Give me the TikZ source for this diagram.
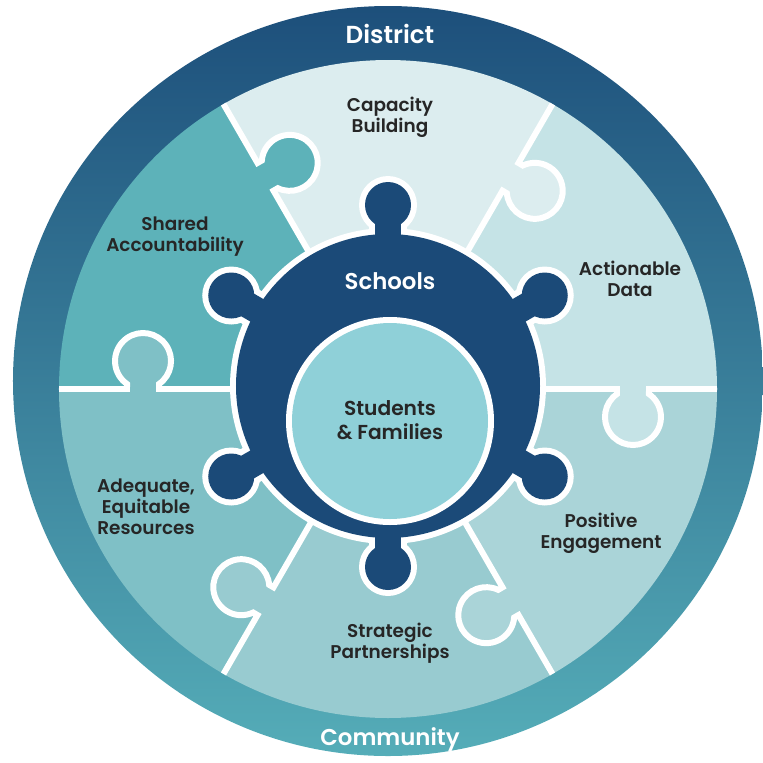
\documentclass[tikz,border=0pt]{standalone}
\usepackage{fontspec}
\setmainfont{Poppins}[BoldFont={Poppins SemiBold}]
\definecolor{ringtop}{HTML}{1D4F7B}
\definecolor{ringbot}{HTML}{55ADB8}
\definecolor{gearblue}{HTML}{1B4A78}
\definecolor{coreteal}{HTML}{8FD0D8}
\definecolor{pccap}{HTML}{DCEDEF}
\definecolor{pcact}{HTML}{C5E3E6}
\definecolor{pcpos}{HTML}{AAD4D8}
\definecolor{pcstr}{HTML}{98CBD0}
\definecolor{pcadq}{HTML}{7FC0C6}
\definecolor{pcshr}{HTML}{5DB2B9}
\definecolor{labeltext}{HTML}{262626}

\begin{document}
\begin{tikzpicture}[x=0.02cm, y=0.02cm,
		divider/.style={draw=white, line width=3.4pt},
		piecelabel/.style={align=center, text=labeltext, font=\fontsize{10.5}{12}\selectfont\bfseries},
		ringlabel/.style={align=center, text=white, font=\bfseries}]
		\useasboundingbox (-388,-373) rectangle (375,389);
		% outer ring
		\shade[top color=ringtop, bottom color=ringbot] (0,8) circle (375);

		% puzzle pieces
		\foreach \ang/\pc in {0/pcact,60/pccap,120/pcshr,180/pcadq,240/pcstr,300/pcpos}{
			\fill[\pc] (0,0) -- (\ang:329) arc[start angle=\ang, end angle=\ang+60, radius=329] -- cycle;
		}
		\begin{scope}
			\clip (0,0) circle (329);
			\foreach \ang/\pc in {0/pcact,60/pccap,120/pcshr,180/pcadq,240/pcstr,300/pcpos}{
				\begin{scope}[rotate=\ang]
					\fill[\pc] (229,1) -- (229,-5) arc[start angle=124.8, end angle=415.2, radius=28] -- (261,1) -- cycle;
					\draw[divider] (120,0) -- (229,0) -- (229,-5) arc[start angle=124.8, end angle=415.2, radius=28] -- (261,0) -- (340,0);
				\end{scope}
			}
		\end{scope}

		% schools gear
		\foreach \g in {30,90,150,210,270,330}{
			\draw[white, line width=6.8pt] ([shift={(0,3)}]\g:181) circle (23);
			\draw[white, line width=6.8pt, rotate around={\g:(0,3)}] (140,-10) rectangle (170,16);
		}
		\draw[white, line width=6.8pt] (0,3) circle (152);
		\fill[gearblue] (0,3) circle (152);
		\foreach \g in {30,90,150,210,270,330}{
			\fill[gearblue] ([shift={(0,3)}]\g:181) circle (23);
			\fill[gearblue, rotate around={\g:(0,3)}] (140,-10) rectangle (170,16);
		}

		% students and families
		\fill[white] (2,-32) circle (104);
		\fill[coreteal] (2,-32) circle (98);

		\node[ringlabel, font=\fontsize{14}{16}\selectfont\bfseries] (district) at (2,355) {District};
		\node[ringlabel, font=\fontsize{13}{16}\selectfont\bfseries] (community) at (2,-351) {Community};
		\node[ringlabel, font=\fontsize{13}{15}\selectfont\bfseries] (schools) at (2,108) {Schools};
		\node[piecelabel, font=\fontsize{11.5}{13.7}\selectfont\bfseries] (students) at (2,-31) {Students\\\& Families};
		\node[piecelabel] (capacity) at (2,272) {Capacity\\Building};
		\node[piecelabel] (shared) at (-213,152) {Shared\\Accountability};
		\node[piecelabel] (actionable) at (242,110) {Actionable\\Data};
		\node[piecelabel] (adequate) at (-242,-118) {Adequate,\\Equitable\\Resources};
		\node[piecelabel] (positive) at (213,-144) {Positive\\Engagement};
		\node[piecelabel] (strategic) at (2,-254) {Strategic\\Partnerships};
	\end{tikzpicture}
\end{document}
